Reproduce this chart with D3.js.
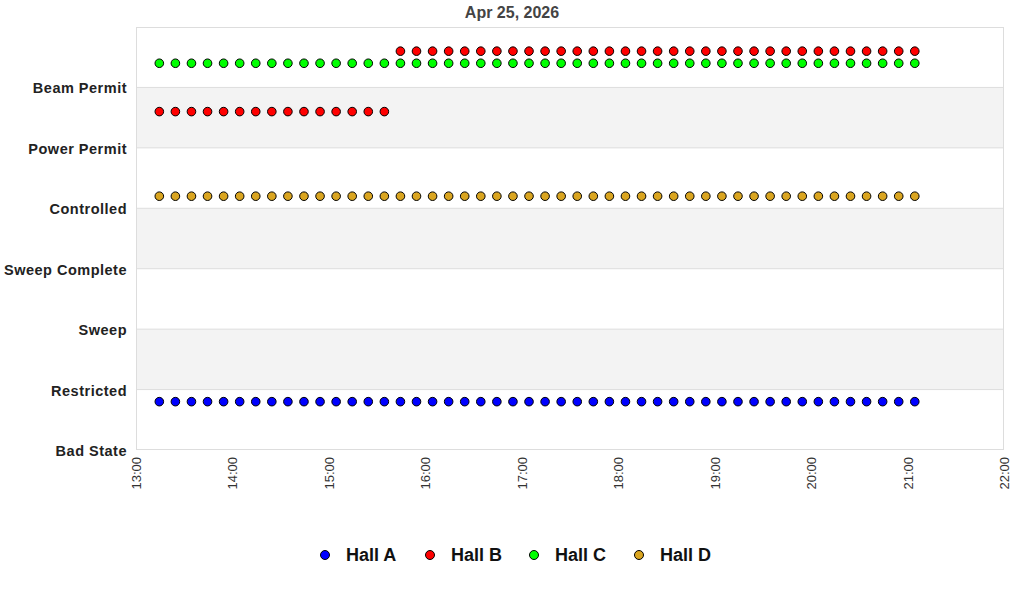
<!DOCTYPE html>
<html><head><meta charset="utf-8">
<script src="https://cdn.jsdelivr.net/npm/d3@7"></script>
<style>body{margin:0;background:#fff;font-family:"Liberation Sans",Arial,sans-serif;}</style>
</head><body><svg id="c" width="1024" height="600"></svg>
<script>
const title = "Apr 25, 2026";
const states = ["Bad State","Restricted","Sweep","Sweep Complete","Controlled","Power Permit","Beam Permit"];
const halls = ["Hall A","Hall B","Hall C","Hall D"];
const colors = ["#0000ff","#ff0000","#00ff00","#daa520"];
const offsets = [-0.2, 0.6, 0.4, 0.2];
const xTicks = ["13:00","14:00","15:00","16:00","17:00","18:00","19:00","20:00","21:00","22:00"];
// sample times: 13:15 to 21:05 every 10 min
const times = ["13:15","13:25","13:35","13:45","13:55","14:05","14:15","14:25","14:35","14:45","14:55","15:05","15:15","15:25","15:35","15:45","15:55","16:05","16:15","16:25","16:35","16:45","16:55","17:05","17:15","17:25","17:35","17:45","17:55","18:05","18:15","18:25","18:35","18:45","18:55","19:05","19:15","19:25","19:35","19:45","19:55","20:05","20:15","20:25","20:35","20:45","20:55","21:05"];
const hallA = Array(48).fill("Restricted");
const hallB = ["Power Permit","Power Permit","Power Permit","Power Permit","Power Permit","Power Permit","Power Permit","Power Permit","Power Permit","Power Permit","Power Permit","Power Permit","Power Permit","Power Permit","Power Permit"].concat(Array(33).fill("Beam Permit"));
const hallC = Array(48).fill("Beam Permit");
const hallD = Array(48).fill("Controlled");
const series = [hallA, hallB, hallC, hallD];

const svg = d3.select("#c");
const L = 136, R = 1004, T = 27, B = 450;
const toH = s => { const [h,m] = s.split(":").map(Number); return h + m/60; };
const x = d3.scaleLinear().domain([13, 22]).range([L, R]);
const y = d3.scaleLinear().domain([0, 7]).range([B, T]);

// bands
for (let i = 0; i < 7; i++) {
  svg.append("rect").attr("x", L).attr("y", y(i+1)).attr("width", R-L).attr("height", y(i)-y(i+1))
    .attr("fill", i % 2 === 1 ? "#f3f3f3" : "#ffffff");
}
// gridlines
for (let i = 1; i < 7; i++) {
  svg.append("line").attr("x1", L).attr("x2", R).attr("y1", y(i)).attr("y2", y(i)).attr("stroke", "#dddddd");
}
svg.append("rect").attr("x", L+0.5).attr("y", T+0.5).attr("width", R-L-1).attr("height", B-T-1)
  .attr("fill", "none").attr("stroke", "#dddddd");

// y labels
svg.selectAll(".yl").data(states).enter().append("text")
  .attr("x", 127).attr("y", (d,i) => y(i) + 6).attr("text-anchor", "end")
  .attr("font-size", 14.5).attr("letter-spacing", 0.5).attr("font-weight", "bold").attr("fill", "#222").text(d => d);

// x labels
svg.selectAll(".xl").data(xTicks).enter().append("text")
  .attr("transform", d => `translate(${x(toH(d)) + 5},${B + 7}) rotate(-90)`)
  .attr("text-anchor", "end").attr("font-size", 13).attr("fill", "#333").text(d => d);

// title
svg.append("text").attr("x", 512).attr("y", 18).attr("text-anchor", "middle")
  .attr("font-size", 16).attr("font-weight", "bold").attr("fill", "#444").text(title);

// points
series.forEach((s, k) => {
  svg.append("g").selectAll("circle").data(s).enter().append("circle")
    .attr("cx", (d,i) => x(toH(times[i])) - 0.8)
    .attr("cy", d => y(states.indexOf(d) + offsets[k]))
    .attr("r", 4.3).attr("fill", colors[k]).attr("stroke", "#000").attr("stroke-width", 1);
});

// legend
const legX = [325, 430, 534, 639];
halls.forEach((h, k) => {
  svg.append("circle").attr("cx", legX[k]).attr("cy", 555).attr("r", 4.5)
    .attr("fill", colors[k]).attr("stroke", "#000").attr("stroke-width", 1);
  svg.append("text").attr("x", legX[k] + 21).attr("y", 561).attr("font-size", 18)
    .attr("font-weight", "bold").attr("fill", "#111").text(h);
});
</script></body></html>
